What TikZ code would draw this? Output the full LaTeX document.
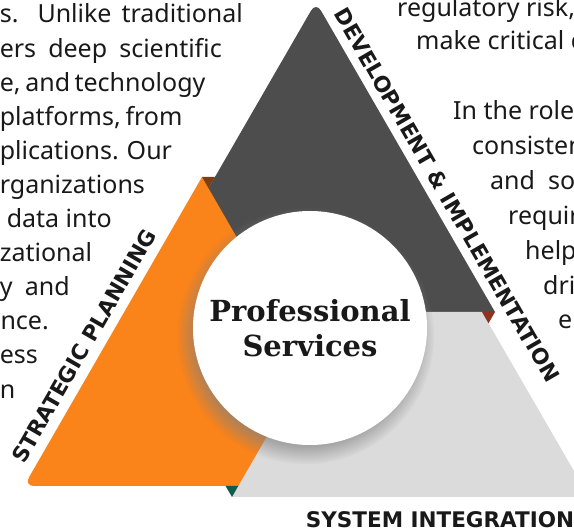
\documentclass[tikz,border=0pt]{standalone}
\usepackage{fontspec}
\setmainfont{Noto Sans}
\newfontfamily\slabfont{DejaVu Serif}
\newfontfamily\labelfont{DejaVu Sans}
\usetikzlibrary{calc,shadows}
\definecolor{myorange}{RGB}{250,131,26}
\definecolor{mydark}{RGB}{77,77,77}
\definecolor{mylight}{RGB}{219,219,219}
\definecolor{foldbrown}{RGB}{125,62,20}
\definecolor{foldrust}{RGB}{140,52,28}
\definecolor{foldgreen}{RGB}{14,92,76}
\definecolor{mytext}{RGB}{25,25,25}
\newcommand{\bodyfont}{\fontsize{25}{29}\selectfont}
\tikzset{
  bodyline/.style={font=\bodyfont, text=mytext, inner sep=0pt},
  sidelabel/.style={font=\labelfont\bfseries\fontsize{21.5}{26}\selectfont, text=mytext, inner sep=0pt},
}

\begin{document}
\begin{tikzpicture}[x=1pt,y=-1pt]
\useasboundingbox (0,0) rectangle (574,529);
\clip (0,0) rectangle (574,529);

% running text, cut by the page (justified lines)
\foreach \t/\xe [count=\i] in {{s. Unlike traditional}/243, {ers deep scientific}/222,
  {e, and technology}/200, {platforms, from}/180, {plications. Our}/158,
  {\hfill rganizations}/137, {\hfill data into}/112, {\hfill zational}/92, {y and}/70,
  {\hfill nce.}/49, {\hfill ess}/27, {\hfill n}/6}{
\node[bodyline, anchor=base east] (left\i) at (\xe, {23+34.1*(\i-1)}) {\makebox[\xe pt][s]{\t}};
}
\foreach \t/\xs/\yb [count=\i] in {{regulatory risk,}/397/17, {make critical d}/416/50,
  {In the role o}/453/120, {consisten}/472/155, {and\ \ sol}/490/190,
  {require}/508/225, {help}/525/260, {dri}/543/295, {e}/558/329}{
\node[bodyline, anchor=base west] (right\i) at (\xs, \yb) {\t};
}

% three triangles, pinwheel
\fill[mydark] (137,312) [rounded corners=10pt] -- (316,2) [sharp corners] -- (495,312) -- cycle;
\fill[myorange] (202,177) [rounded corners=10pt] -- (24,486) [sharp corners] -- (380,486) -- cycle;
\fill[mylight] (232,497) -- (339,312) -- (482,312) -- (589,497) -- cycle;

% folded corners
\fill[foldbrown] (202,177) -- (215,177) -- (208.5,188.3) -- cycle;
\fill[foldrust] (482,312) -- (495,312) -- (488.5,323.3) -- cycle;
\fill[foldgreen] (225.6,486) -- (238.3,486) -- (232,497) -- cycle;

\node[circle, fill=white, minimum size=234pt, inner sep=0pt, align=center,
  circular drop shadow={shadow xshift=-4pt, shadow yshift=-7pt, shadow scale=1.1, opacity=.6},
  font=\slabfont\bfseries\fontsize{29}{35}\selectfont, text=mytext] (hub) at (310,328)
  {Professional\\Services};

\node[sidelabel, rotate=-60] (devlabel) at (447,195) {DEVELOPMENT \& IMPLEMENTATION};
\node[sidelabel, rotate=60] (stratlabel) at (84,346) {STRATEGIC PLANNING};
\node[sidelabel] (syslabel) at (440,519.5) {SYSTEM INTEGRATION};
\end{tikzpicture}
\end{document}
